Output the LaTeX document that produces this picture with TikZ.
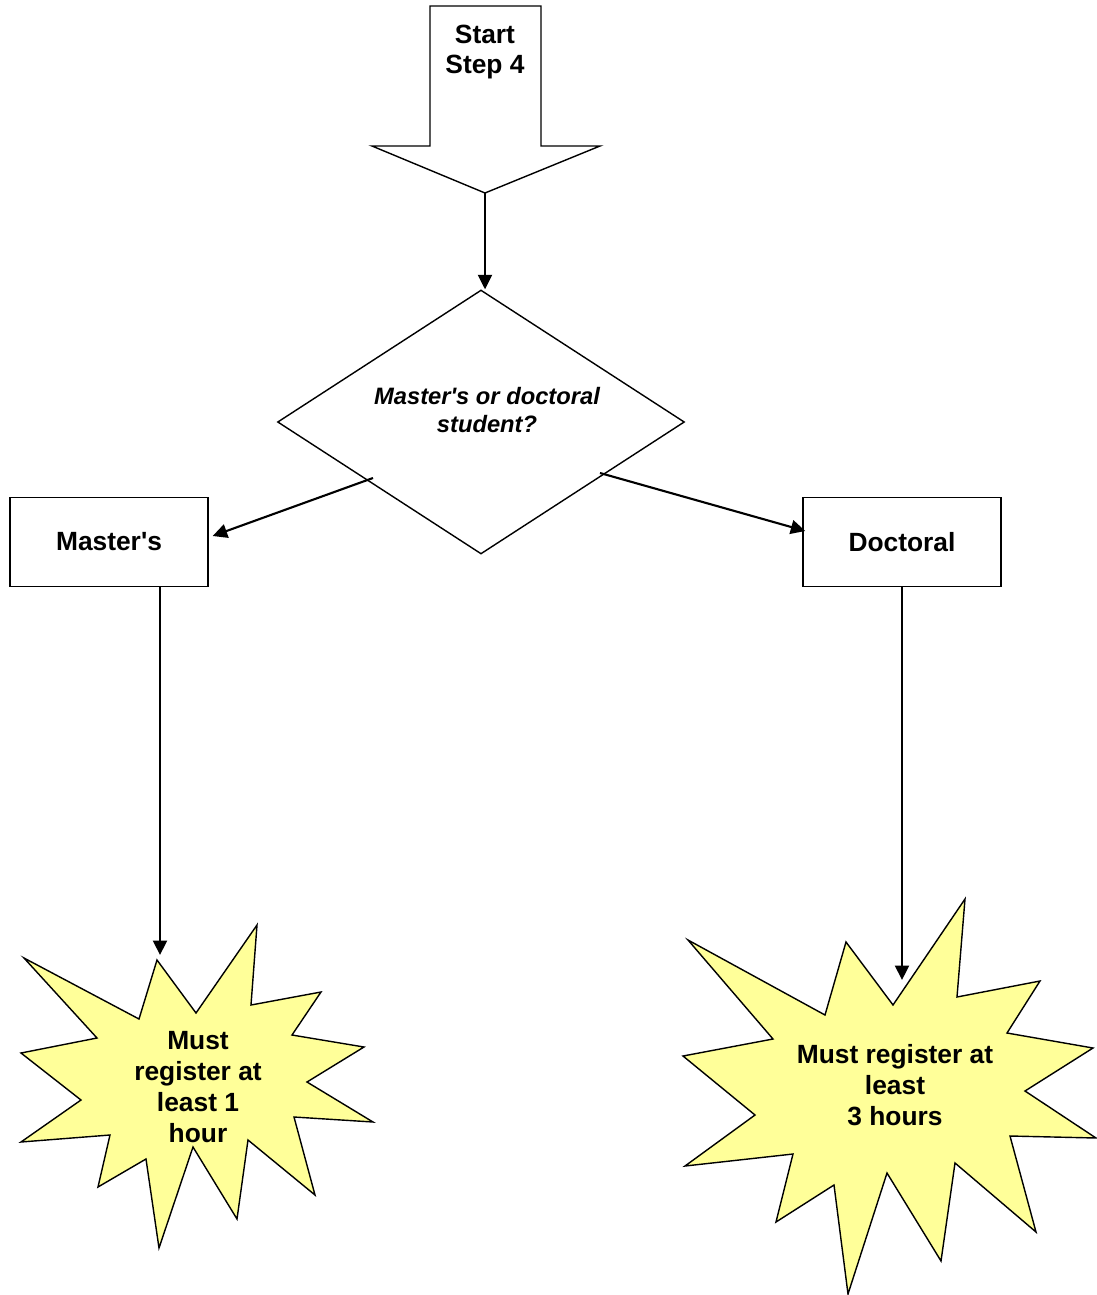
\documentclass[tikz,border=0pt]{standalone}
\usepackage{fontspec}
\setmainfont{Liberation Sans}
\usetikzlibrary{shapes.geometric,arrows.meta,calc}
\definecolor{burst}{HTML}{FFFF99}
\tikzset{
  shape line/.style={draw=black, line width=0.8pt},
  flow/.style={line width=1.2pt, -{Triangle[length=0.29cm,width=0.28cm]}},
  choicebox/.style={shape line, rectangle, minimum width=3.96cm, minimum height=1.78cm,
    inner sep=0pt, font=\bfseries},
  label text/.style={align=center, font=\bfseries},
}
\newcommand{\apos}{\textquotesingle}
\begin{document}
\begin{tikzpicture}[x=0.02cm, y=-0.02cm]
\fontsize{15}{17.6}\selectfont
\useasboundingbox (0,0) rectangle (1096,1295);

% start arrow
\draw[shape line] (430,6) -- (541,6) -- (541,146) -- (600,146) -- (485,193)
  -- (372,146) -- (430,146) -- cycle;
\coordinate (starttip) at (485,193);
\node[label text] (start) at (485,52) {Start\\Step 4};

% decision
\node[shape line, diamond, minimum width=8.14cm, minimum height=5.28cm, inner sep=0pt]
  (dia) at (481,422) {};
\node[align=center, font=\fontsize{13.5}{16}\selectfont\bfseries\itshape] (question)
  at (487,410) {Master\apos s or doctoral\\student?};

% the two choices
\node[choicebox] (masters) at (109,542) {Master\apos s};
\node[choicebox] (doctoral) at (902,542) {Doctoral};

% burst shapes
\draw[shape line, fill=burst] (157,960) -- (196,1013) -- (257,925) -- (251,1005)
  -- (321,992) -- (292,1035) -- (364,1047) -- (307,1082) -- (373,1122)
  -- (294,1117) -- (315,1195) -- (248,1140) -- (237,1219) -- (193,1147)
  -- (159,1248) -- (146,1159) -- (98,1187) -- (110,1135) -- (21,1142)
  -- (81,1100) -- (21,1053) -- (97,1038) -- (24,958) -- (139,1019) -- cycle;
\draw[shape line, fill=burst] (893,1005) -- (965,899) -- (957,997) -- (1040,981)
  -- (1007,1033) -- (1093,1048) -- (1025,1091) -- (1096,1138) -- (1010,1136)
  -- (1036,1232) -- (955,1163) -- (941,1261) -- (887,1173) -- (848,1294)
  -- (834,1185) -- (776,1222) -- (793,1154) -- (685,1166) -- (755,1115)
  -- (683,1056) -- (773,1039) -- (688,940) -- (825,1015) -- (846,942) -- cycle;
\node[label text] (onehour) at (198,1087) {Must\\register at\\least 1\\hour};
\node[label text] (threehours) at (895,1085) {Must register at\\least\\3 hours};

% connectors
\coordinate (mfrom) at (373,478);
\coordinate (dfrom) at (600,473);
\coordinate (mhit) at (160,955);
\coordinate (dhit) at (902,980);
\draw[flow] (starttip) -- (starttip |- dia.north);
\draw[flow] (mfrom) -- ($(masters.east)+(4,-6)$);
\draw[flow] (dfrom) -- ($(doctoral.west)+(3,-11)$);
\draw[flow] (masters.south -| mhit) -- (mhit);
\draw[flow] (doctoral.south) -- (dhit);
\end{tikzpicture}
\end{document}
